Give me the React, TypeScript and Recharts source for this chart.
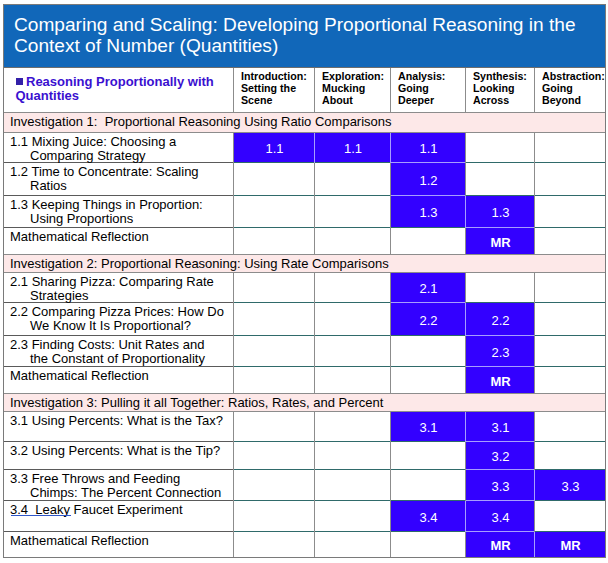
import React from "react";
import { ScatterChart, Scatter, XAxis, YAxis } from "recharts";

// ---------------- data ----------------
const titleLines = [
  "Comparing and Scaling: Developing Proportional Reasoning in the",
  "Context of Number (Quantities)",
];
const unitLabel = ["Reasoning Proportionally with", "Quantities"];
const stageHeaders = [
  ["Introduction:", "Setting the", "Scene"],
  ["Exploration:", "Mucking", "About"],
  ["Analysis:", "Going", "Deeper"],
  ["Synthesis:", "Looking", "Across"],
  ["Abstraction:", "Going", "Beyond"],
];
const investigationTitles = [
  "Investigation 1:  Proportional Reasoning Using Ratio Comparisons",
  "Investigation 2: Proportional Reasoning: Using Rate Comparisons",
  "Investigation 3: Pulling it all Together: Ratios, Rates, and Percent",
];
const inv1Lessons = [
  ["1.1 Mixing Juice: Choosing a", "Comparing Strategy"],
  ["1.2 Time to Concentrate: Scaling", "Ratios"],
  ["1.3 Keeping Things in Proportion:", "Using Proportions"],
  ["Mathematical Reflection"],
];
const inv1Cells = [
  ["1.1", "1.1", "1.1", "", ""],
  ["", "", "1.2", "", ""],
  ["", "", "1.3", "1.3", ""],
  ["", "", "", "MR", ""],
];
const inv2Lessons = [
  ["2.1 Sharing Pizza: Comparing Rate", "Strategies"],
  ["2.2 Comparing Pizza Prices: How Do", "We Know It Is Proportional?"],
  ["2.3 Finding Costs: Unit Rates and", "the Constant of Proportionality"],
  ["Mathematical Reflection"],
];
const inv2Cells = [
  ["", "", "2.1", "", ""],
  ["", "", "2.2", "2.2", ""],
  ["", "", "", "2.3", ""],
  ["", "", "", "MR", ""],
];
const inv3Lessons = [
  ["3.1 Using Percents: What is the Tax?"],
  ["3.2 Using Percents: What is the Tip?"],
  ["3.3 Free Throws and Feeding", "Chimps: The Percent Connection"],
  ["3.4  Leaky Faucet Experiment"],
  ["Mathematical Reflection"],
];
const inv3Cells = [
  ["", "", "3.1", "3.1", ""],
  ["", "", "", "3.2", ""],
  ["", "", "", "3.3", "3.3"],
  ["", "", "3.4", "3.4", ""],
  ["", "", "", "MR", "MR"],
];
const underlinedPrefix = "3.4  Leaky";

// ---------------- layout / style ----------------
const W = 608;
const H = 563;
const LEFT = 3;
const TOP = 4;
const colWidths = [231, 81, 76, 75, 69, 71];
const titleHeight = 64;
const headerHeight = 45;
const bandHeights = [20, 18, 18];
const rowHeights = [
  [30, 33, 32, 27],
  [30, 33, 31, 27],
  [30, 28, 31, 31, 26],
];
const FONT = "'Liberation Sans', Arial, sans-serif";
const TITLE_BLUE = "#1167b9";
const CELL_BLUE = "#3300ff";
const BAND_PINK = "#fde8e8";
const GRID = "#8c8c8c";
const TEAL = "#2f6a6a";
const LIGHT = "#a79dff";

type Cell = {
  x: number;
  y: number;
  w: number;
  h: number;
  kind: string;
  lines?: string[];
  text?: string;
  col?: number;
  filled?: boolean;
  lastInGroup?: boolean;
  rightFilled?: boolean;
  belowFilled?: boolean;
};

const totalWidth = colWidths.reduce((a, b) => a + b, 0);
const colStarts = colWidths.map((_, i) => LEFT + colWidths.slice(0, i).reduce((a, b) => a + b, 0));

function buildCells(): Cell[] {
  const out: Cell[] = [];
  let y = TOP;
  out.push({ x: LEFT, y, w: totalWidth, h: titleHeight, kind: "title", lines: titleLines });
  y += titleHeight;
  out.push({ x: colStarts[0], y, w: colWidths[0], h: headerHeight, kind: "corner", lines: unitLabel });
  stageHeaders.forEach((lines, i) => {
    out.push({ x: colStarts[i + 1], y, w: colWidths[i + 1], h: headerHeight, kind: "stage", lines, col: i + 1 });
  });
  y += headerHeight;
  const groups = [
    { lessons: inv1Lessons, cells: inv1Cells },
    { lessons: inv2Lessons, cells: inv2Cells },
    { lessons: inv3Lessons, cells: inv3Cells },
  ];
  groups.forEach((g, gi) => {
    out.push({ x: LEFT, y, w: totalWidth, h: bandHeights[gi], kind: "band", text: investigationTitles[gi] });
    y += bandHeights[gi];
    g.lessons.forEach((lines, ri) => {
      const h = rowHeights[gi][ri];
      const last = ri === g.lessons.length - 1;
      out.push({ x: colStarts[0], y, w: colWidths[0], h, kind: "lesson", lines, col: 0, lastInGroup: last });
      g.cells[ri].forEach((t, ci) => {
        const below = !last && g.cells[ri + 1][ci] !== "";
        const right = ci < 4 && g.cells[ri][ci + 1] !== "";
        out.push({
          x: colStarts[ci + 1],
          y,
          w: colWidths[ci + 1],
          h,
          kind: "cell",
          text: t,
          col: ci + 1,
          filled: t !== "",
          lastInGroup: last,
          rightFilled: right,
          belowFilled: below,
        });
      });
      y += h;
    });
  });
  return out;
}

const cells = buildCells();
const frame = [{ x: LEFT, y: TOP, w: totalWidth, h: cells[cells.length - 1].y + cells[cells.length - 1].h - TOP, kind: "frame" }];

function FillShape(props: any) {
  const { cx, cy, payload } = props;
  const c = payload as Cell;
  let fill = "#ffffff";
  if (c.kind === "title") fill = TITLE_BLUE;
  else if (c.kind === "band") fill = BAND_PINK;
  else if (c.kind === "cell" && c.filled) fill = CELL_BLUE;
  return <rect x={cx} y={cy} width={c.w} height={c.h} fill={fill} />;
}

function OverlayShape(props: any) {
  const { cx, cy, payload } = props;
  const c = payload as Cell;
  const right = cx + c.w;
  const bottom = cy + c.h;
  const isLastCol = c.col === 5;
  const els: React.ReactNode[] = [];
  const hLine = (color: string) => (
    <line key="b" x1={cx} x2={right} y1={bottom - 0.5} y2={bottom - 0.5} stroke={color} strokeWidth={1} />
  );
  const vLine = (color: string) => (
    <line key="r" x1={right - 0.5} x2={right - 0.5} y1={cy} y2={bottom} stroke={color} strokeWidth={1} />
  );
  if (c.kind === "title") {
    els.push(hLine("#6d6d6d"));
    (c.lines || []).forEach((t, i) => {
      els.push(
        <text key={"t" + i} x={cx + 11} y={cy + 27 + i * 21} fill="#ffffff" fontSize={19.1} fontFamily={FONT}>
          {t}
        </text>
      );
    });
  } else if (c.kind === "corner") {
    els.push(hLine(GRID), vLine(GRID));
    els.push(<rect key="sq" x={cx + 13} y={cy + 10} width={7} height={7} fill="#3320a8" />);
    (c.lines || []).forEach((t, i) => {
      els.push(
        <text
          key={"t" + i}
          x={cx + (i === 0 ? 23 : 12.5)}
          y={cy + 18 + i * 14}
          fill="#3a10d0"
          fontSize={13}
          fontWeight="bold"
          fontFamily={FONT}
        >
          {t}
        </text>
      );
    });
  } else if (c.kind === "stage") {
    els.push(hLine(GRID));
    if (!isLastCol) els.push(vLine(GRID));
    (c.lines || []).forEach((t, i) => {
      els.push(
        <text key={"t" + i} x={cx + 7} y={cy + 11.5 + i * 12} fill="#000000" fontSize={10.67} fontWeight="bold" fontFamily={FONT}>
          {t}
        </text>
      );
    });
  } else if (c.kind === "band") {
    els.push(hLine(GRID));
    els.push(
      <text key="t" x={cx + 7} y={cy + 13} fill="#000000" fontSize={13} fontFamily={FONT} style={{ whiteSpace: "pre" }}>
        {c.text}
      </text>
    );
  } else if (c.kind === "lesson") {
    els.push(hLine(c.lastInGroup ? GRID : "#5a5a5a"), vLine(GRID));
    (c.lines || []).forEach((t, i) => {
      els.push(
        <text
          key={"t" + i}
          x={cx + (i === 0 ? 7 : 27)}
          y={cy + 12.5 + i * 14}
          fill="#000000"
          fontSize={13}
          fontFamily={FONT}
          style={{ whiteSpace: "pre" }}
        >
          {t}
        </text>
      );
      if (i === 0 && t.startsWith(underlinedPrefix)) {
        const wPx = 60;
        els.push(
          <line key="u" x1={cx + 8} x2={cx + 8 + wPx} y1={cy + 14.5} y2={cy + 14.5} stroke="#2f56c8" strokeWidth={1} />
        );
      }
    });
  } else if (c.kind === "cell") {
    const bColor = c.lastInGroup ? GRID : c.filled && c.belowFilled ? LIGHT : TEAL;
    const rColor = c.filled && c.rightFilled ? LIGHT : GRID;
    els.push(hLine(bColor));
    if (!isLastCol) els.push(vLine(rColor));
    if (c.filled) {
      els.push(
        <text
          key="t"
          x={cx + c.w / 2}
          y={cy + c.h / 2 + 5}
          textAnchor="middle"
          fill="#ffffff"
          fontSize={13}
          fontWeight={c.text === "MR" ? "bold" : "normal"}
          fontFamily={FONT}
        >
          {c.text}
        </text>
      );
    }
  } else if (c.kind === "frame") {
    els.push(
      <rect key="f" x={cx + 0.5} y={cy + 0.5} width={c.w - 1} height={c.h - 1} fill="none" stroke="#7a7a7a" strokeWidth={1} />
    );
  }
  return <g>{els}</g>;
}

export default function App() {
  return (
    <div style={{ position: "absolute", left: 0, top: 0, width: W, height: H, background: "#ffffff" }}>
      <ScatterChart width={W} height={H} margin={{ top: 0, right: 0, bottom: 0, left: 0 }}>
        <XAxis type="number" dataKey="x" domain={[0, W]} hide />
        <YAxis type="number" dataKey="y" domain={[0, H]} reversed hide />
        <Scatter data={cells} isAnimationActive={false} shape={(p: any) => <FillShape {...p} />} />
        <Scatter data={cells} isAnimationActive={false} shape={(p: any) => <OverlayShape {...p} />} />
        <Scatter data={frame} isAnimationActive={false} shape={(p: any) => <OverlayShape {...p} />} />
      </ScatterChart>
    </div>
  );
}
